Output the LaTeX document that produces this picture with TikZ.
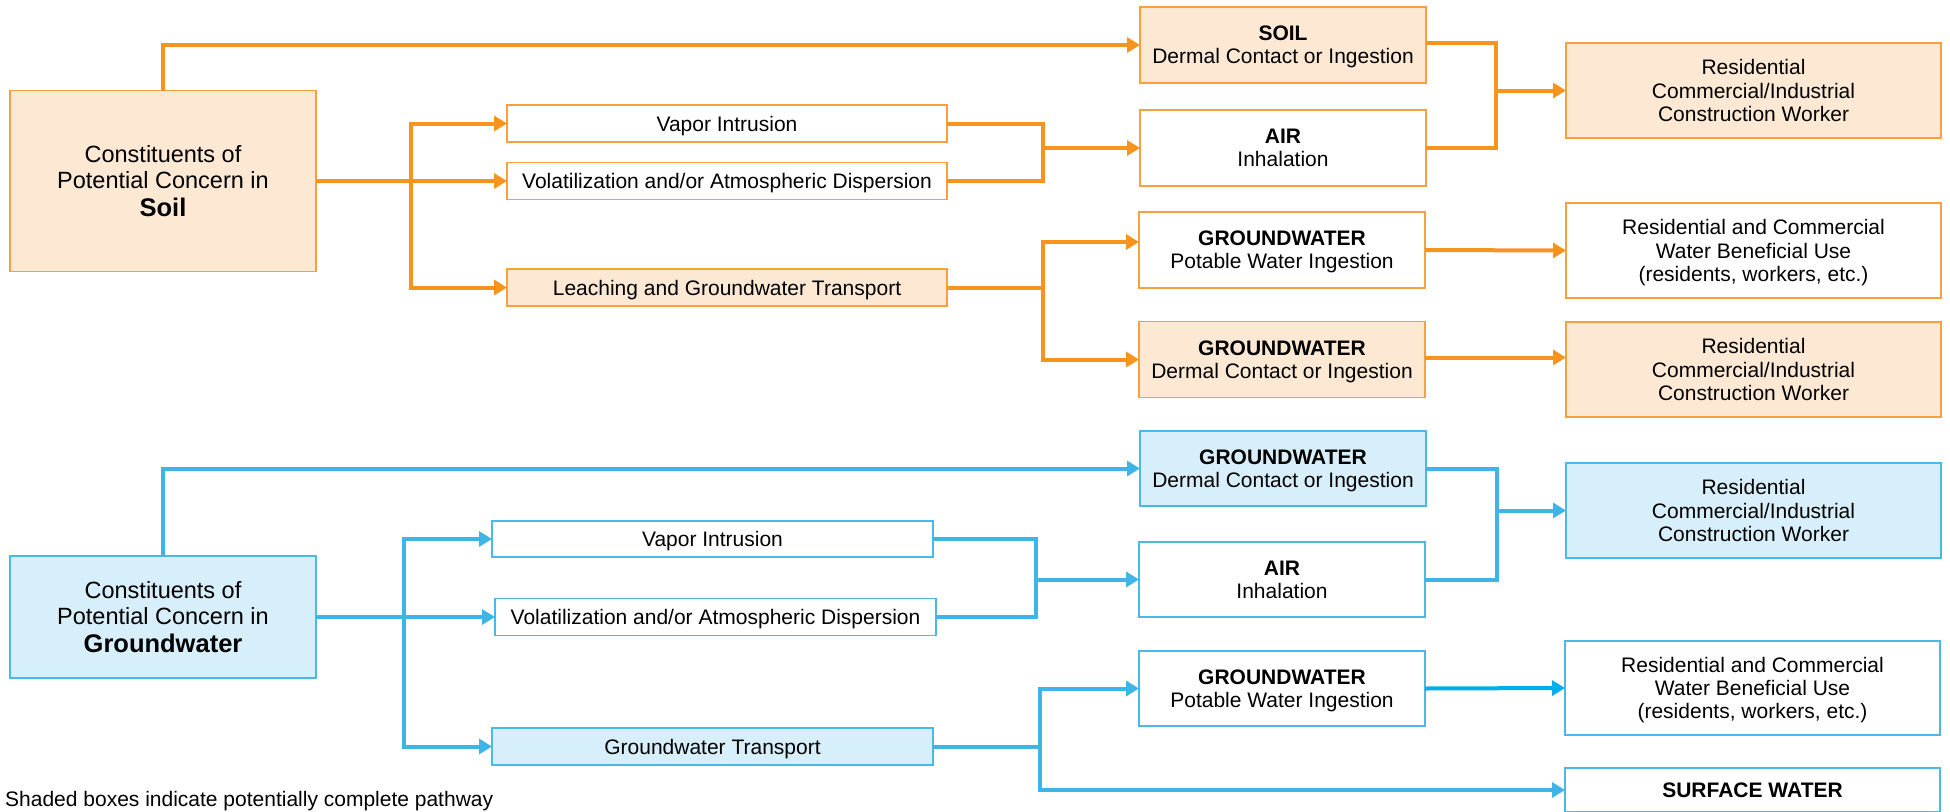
\documentclass[tikz,border=0pt]{standalone}
\usepackage{fontspec}
\setmainfont{Liberation Sans}
\usetikzlibrary{arrows.meta,calc}
\definecolor{oln}{HTML}{F7941D}
\definecolor{obrd}{HTML}{F8A040}
\definecolor{ofill}{HTML}{FDE9D3}
\definecolor{bln}{HTML}{3FB4E6}
\definecolor{bbrd}{HTML}{4AB8E8}
\definecolor{bfill}{HTML}{D7EFFB}
\definecolor{bbright}{HTML}{00AEEF}
\newcommand\ft{\fontsize{21}{23.3}\selectfont}
\newcommand\fbig{\fontsize{23.5}{25.8}\selectfont}
\begin{document}
\begin{tikzpicture}[x=1pt,y=-1pt,
  box/.style={line width=1.8pt, inner sep=0pt, outer sep=0pt, align=center, font=\ft, text=black, text depth=0pt},
  ob/.style={box, draw=obrd, fill=white},
  obf/.style={box, draw=obrd, fill=ofill},
  bbx/.style={box, draw=bbrd, fill=white},
  bbf/.style={box, draw=bbrd, fill=bfill},
  oline/.style={draw=oln, line width=4pt},
  oarr/.style={oline, -{Triangle[length=13pt,width=15pt]}},
  bline/.style={draw=bln, line width=4pt},
  barr/.style={bline, -{Triangle[length=13pt,width=15pt]}},
  ow/.style={minimum width=306pt},
  mw/.style={minimum width=286pt, minimum height=76pt},
  rw/.style={minimum width=375pt, minimum height=95pt},
  pw/.style={minimum width=440pt, minimum height=37pt}
]
\useasboundingbox (0,0) rectangle (1950,811);

% ---------- Soil section ----------
\node[obf, ow, minimum height=181pt, font=\fbig] (soil) at (163,181)
  {Constituents of\\Potential Concern in\\[2pt]{\bfseries\fontsize{25.5}{28}\selectfont Soil}};
\node[obf, mw] (sdc) at (1283,45) {{\bfseries SOIL}\\Dermal Contact or Ingestion};
\node[ob, pw] (vi1) at (727,123.5) {Vapor Intrusion};
\node[ob, pw] (va1) at (727,181) {Volatilization and/or Atmospheric Dispersion};
\node[obf, pw] (lg1) at (727,287.5) {Leaching and Groundwater Transport};
\node[ob, mw] (air1) at (1283,148) {{\bfseries AIR}\\Inhalation};
\node[ob, mw] (gwp1) at (1282,250) {{\bfseries GROUNDWATER}\\Potable Water Ingestion};
\node[obf, mw] (gwd1) at (1282,359.5) {{\bfseries GROUNDWATER}\\Dermal Contact or Ingestion};
\node[obf, rw] (res1) at (1753.5,90.5) {Residential\\Commercial/Industrial\\Construction Worker};
\node[ob, rw] (rc1) at (1753.5,250.5) {Residential and Commercial\\Water Beneficial Use\\(residents, workers, etc.)};
\node[obf, rw] (res2) at (1753.5,369.5) {Residential\\Commercial/Industrial\\Construction Worker};

\draw[oarr] (soil.north) |- (sdc.west);
\coordinate (j1) at (411,181);
\draw[oarr] (j1) |- (vi1.west);
\draw[oarr] (soil.east) -- (va1.west);
\draw[oarr] (j1) |- (lg1.west);
\coordinate (j2) at (1043,148);
\draw[oline] (vi1.east) -| (j2);
\draw[oline] (va1.east) -| (j2);
\draw[oarr] (j2) -- (air1.west);
\coordinate (j3) at (1043,287.5);
\draw[oline] (lg1.east) -- (j3);
\draw[oarr] (j3) |- ([yshift=8pt]gwp1.west);
\draw[oarr] (j3) |- (gwd1.west);
\coordinate (j4) at (1496,90.5);
\draw[oline] ([yshift=2pt]sdc.east) -| (j4);
\draw[oline] (air1.east) -| (j4);
\draw[oarr] (j4) -- (res1.west);
\draw[oarr] (gwp1.east) -- (rc1.west);
\coordinate (g1) at ([yshift=2pt]gwd1.east);
\draw[oarr] (g1) -- (g1 -| res2.west);

% ---------- Groundwater section ----------
\node[bbf, ow, minimum height=122pt, font=\fbig] (gw) at (163,617)
  {Constituents of\\Potential Concern in\\[2pt]{\bfseries\fontsize{25.5}{28}\selectfont Groundwater}};
\node[bbf, mw, minimum height=75pt] (gdc) at (1283,468.5) {{\bfseries GROUNDWATER}\\Dermal Contact or Ingestion};
\node[bbx, pw, minimum width=441pt, minimum height=36pt] (vi2) at (712.5,539) {Vapor Intrusion};
\node[bbx, pw, minimum width=441pt] (va2) at (715.5,617) {Volatilization and/or Atmospheric Dispersion};
\node[bbf, pw, minimum width=441pt] (gt) at (712.5,746.5) {Groundwater Transport};
\node[bbx, mw, minimum height=75pt] (air2) at (1282,579.5) {{\bfseries AIR}\\Inhalation};
\node[bbx, mw, minimum height=75pt] (gwp2) at (1282,688.5) {{\bfseries GROUNDWATER}\\Potable Water Ingestion};
\node[bbf, rw] (res3) at (1753.5,510.5) {Residential\\Commercial/Industrial\\Construction Worker};
\node[bbx, rw, minimum height=94pt] (rc2) at (1752.5,688) {Residential and Commercial\\Water Beneficial Use\\(residents, workers, etc.)};
\node[bbx, minimum width=375pt, minimum height=44pt, font=\ft\bfseries] (sw) at (1752.5,790) {SURFACE WATER};

\draw[barr] (gw.north) |- (gdc.west);
\coordinate (k1) at (404,617);
\draw[barr] (k1) |- (vi2.west);
\draw[barr] (gw.east) -- (va2.west);
\draw[barr] (k1) |- (gt.west);
\coordinate (k2) at (1036,579.5);
\draw[bline] (vi2.east) -| (k2);
\draw[bline] (va2.east) -| (k2);
\draw[barr] (k2) -- (air2.west);
\coordinate (k3) at (1040,746.5);
\draw[bline] (gt.east) -- (k3);
\draw[barr] (k3) |- (gwp2.west);
\draw[barr] (k3) |- (sw.west);
\coordinate (k4) at (1497,510.5);
\draw[bline] (gdc.east) -| (k4);
\draw[bline] (air2.east) -| (k4);
\draw[barr] (k4) -- (res3.west);
\draw[barr, draw=bbright] (gwp2.east) -- (rc2.west);

\node[anchor=base west, font=\ft, inner sep=0pt] (note) at (5,806) {Shaded boxes indicate potentially complete pathway};
\end{tikzpicture}
\end{document}
